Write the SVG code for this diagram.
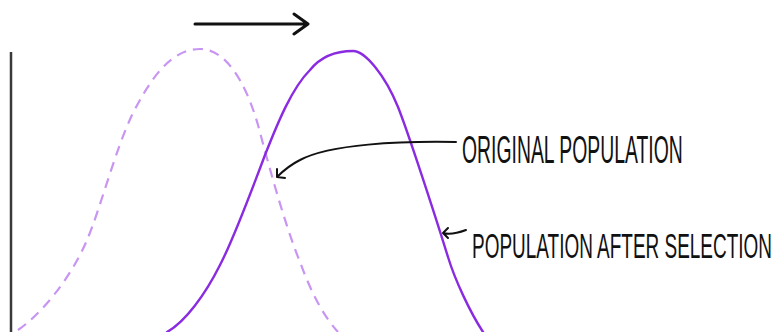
<svg xmlns="http://www.w3.org/2000/svg" width="779" height="332" viewBox="0 0 779 332">
<style>
.axis{stroke:#3a3a3a;stroke-width:2.5;fill:none}
.orig{stroke:#c896f2;stroke-width:2.2;fill:none;stroke-dasharray:10 7}
.sel{stroke:#8a2be2;stroke-width:2.4;fill:none;stroke-linecap:round}
.ink{stroke:#111;stroke-width:2;fill:none;stroke-linecap:round;stroke-linejoin:round}
.lbl{font-family:"Liberation Sans",Arial,sans-serif;fill:#111}
</style>
<rect width="779" height="332" fill="#fff"/>
<g id="axis"><line class="axis" x1="11" y1="52" x2="11" y2="332"/></g>
<g id="original-population"><path class="orig" d="M18,330 C40,315 70,280 87,240 C100,210 115,150 133,113 C150,80 170,49 200,49 C225,49 245,80 258,125 C270,170 285,225 300,262 C312,295 325,318 338,332"/></g>
<g id="population-after-selection"><path class="sel" d="M167,332 C185,322 205,295 220,265 C232,242 250,195 265,155 C278,122 292,88 310,70 C322,55 338,51 353,51 C365,51 385,75 398,107 C408,132 435,215 448,257 C455,280 470,312 483,332"/></g>
<g id="shift-arrow"><path class="ink" style="stroke-width:3" d="M195,24 H307 M294,14 L308,24 L294,34"/></g>
<g id="connectors">
<path class="ink" d="M456,142 C400,141 330,144 300,160 C290,165 283,171 277,177 M277,169 L277,177 L285,178"/>
<path class="ink" d="M466,230 C458,233 450,235 443,233 M448,228 L443,233 L448,238"/>
</g>
<g id="label-original"><text class="lbl" transform="translate(462,163) scale(0.51,1)" font-size="38">ORIGINAL POPULATION</text></g>
<g id="label-selection"><text class="lbl" transform="translate(472,258) scale(0.527,1)" font-size="36">POPULATION AFTER SELECTION</text></g>
</svg>
